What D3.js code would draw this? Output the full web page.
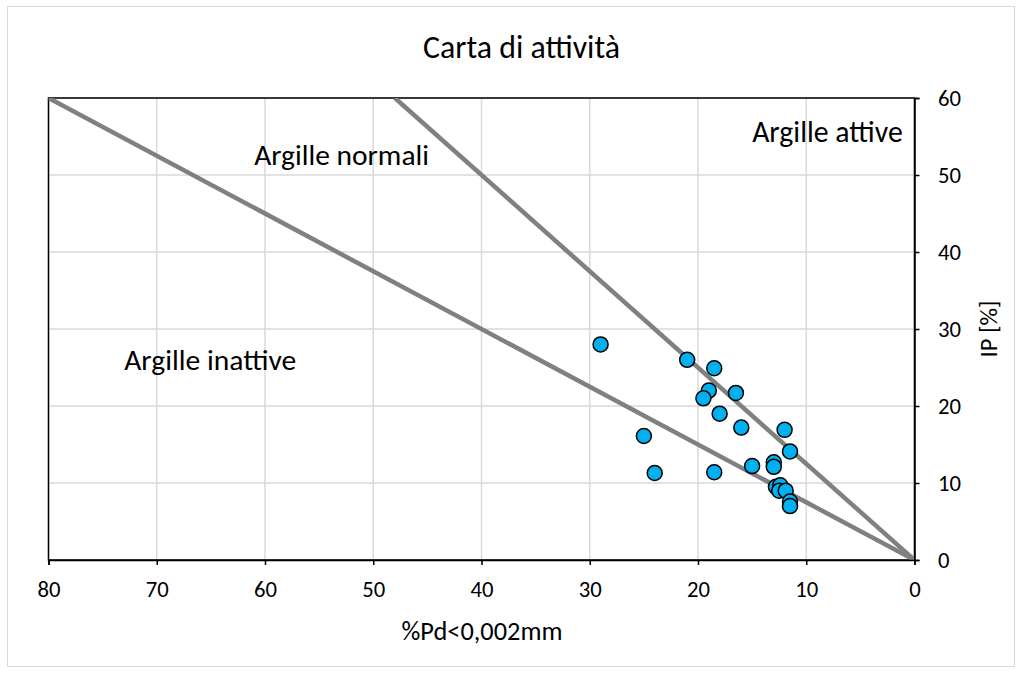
<!DOCTYPE html>
<html><head><meta charset="utf-8">
<script src="https://cdn.jsdelivr.net/npm/d3@7"></script>
<style>body{margin:0;background:#fff}svg{display:block;font-family:Carlito,Calibri,Lato,"Open Sans",sans-serif}</style>
</head><body><svg id="c" width="1024" height="673"></svg>
<script>
const pd = [29, 21, 18.5, 19, 19.5, 16.5, 18, 16, 12, 11.5, 25, 24, 18.5, 15, 13, 13, 12.8, 12.4, 12.5, 11.9, 11.5, 11.5];
const ip = [28, 26, 24.9, 22, 21, 21.7, 19, 17.2, 16.9, 14.1, 16.1, 11.3, 11.4, 12.2, 12.7, 12.1, 9.5, 9.7, 9.0, 9.0, 7.6, 7.0];
const activityLines = [0.75, 1.25];
const xTicks = [80, 70, 60, 50, 40, 30, 20, 10, 0];
const yTicks = [0, 10, 20, 30, 40, 50, 60];
const zoneLabels = [
  {text: "Argille normali", x: 61, y: 52.6},
  {text: "Argille attive", x: 15, y: 55.6},
  {text: "Argille inattive", x: 73, y: 26}
];
const zoneLabelWidths = [175, 150.6, 172];

const FONT = 'Carlito,Calibri,Lato,"Open Sans",sans-serif';
function fitSize(sel, target) {
  const base = 20;
  sel.style("font-size", base + "px");
  const w = sel.node().getComputedTextLength();
  const s = base * target / w;
  sel.style("font-size", s + "px");
  return s;
}

const svg = d3.select("#c");
const L = 48.5, R = 914.5, T = 98, B = 560;
const x = d3.scaleLinear().domain([80, 0]).range([L, R]);
const y = d3.scaleLinear().domain([0, 60]).range([B, T]);

svg.append("rect").attr("x", 7.5).attr("y", 6.5).attr("width", 1007).attr("height", 660)
  .attr("fill", "#fff").attr("stroke", "#d9d9d9");

// grid
svg.append("g").selectAll("line").data(xTicks).join("line")
  .attr("x1", d => x(d)).attr("x2", d => x(d)).attr("y1", T).attr("y2", B)
  .attr("stroke", "#d9d9d9").attr("stroke-width", 1.5);
svg.append("g").selectAll("line").data(yTicks).join("line")
  .attr("y1", d => y(d)).attr("y2", d => y(d)).attr("x1", L).attr("x2", R)
  .attr("stroke", "#d9d9d9").attr("stroke-width", 1.5);

// box
svg.append("rect").attr("x", L).attr("y", T).attr("width", R - L).attr("height", B - T)
  .attr("fill", "none").attr("stroke", "#000").attr("stroke-width", 1.5);

svg.append("clipPath").attr("id", "clip").append("rect")
  .attr("x", L).attr("y", T).attr("width", R - L).attr("height", B - T);

// activity lines
const lg = svg.append("g").attr("clip-path", "url(#clip)");
activityLines.forEach(a => {
  const xe = Math.min(80, 60 / a);
  lg.append("line").attr("x1", x(0)).attr("y1", y(0)).attr("x2", x(xe)).attr("y2", y(a * xe))
    .attr("stroke", "#808080").attr("stroke-width", 4.5);
});

// axes
const xAxis = d3.axisBottom(x).tickValues(xTicks).tickSize(5).tickPadding(0);
const gx = svg.append("g").attr("transform", `translate(0,${B})`).call(xAxis);
const yAxis = d3.axisRight(y).tickValues(yTicks).tickSize(5).tickPadding(0);
const gy = svg.append("g").attr("transform", `translate(${R},0)`).call(yAxis);
[gx, gy].forEach(g => {
  g.attr("font-family", null).attr("font-size", null);
  g.select(".domain").attr("stroke", "#000").attr("stroke-width", 1.5);
  g.selectAll(".tick line").attr("stroke", "#000").attr("stroke-width", 1.5);
  g.selectAll(".tick text").attr("fill", "#000").style("font-family", FONT);
});
const tickSize = fitSize(gx.selectAll(".tick text").filter(d => d === 80), 23);
gx.selectAll(".tick text").style("font-size", tickSize + "px").attr("y", 29).attr("dy", "0.35em");
gy.selectAll(".tick text").style("font-size", tickSize + "px").attr("x", 23.5).attr("dy", "0.35em");

// points
svg.append("g").selectAll("circle").data(pd.map((d, i) => [d, ip[i]])).join("circle")
  .attr("cx", d => x(d[0])).attr("cy", d => y(d[1])).attr("r", 7.5)
  .attr("fill", "#00b0f0").attr("stroke", "#000").attr("stroke-width", 1.5);

// zone labels
svg.append("g").selectAll("text").data(zoneLabels).join("text")
  .attr("x", d => x(d.x)).attr("y", d => y(d.y)).attr("dy", "0.35em")
  .attr("fill", "#000").text(d => d.text)
  .each(function(d, i) { fitSize(d3.select(this), zoneLabelWidths[i]); });

// titles
fitSize(svg.append("text").attr("x", 521.5).attr("y", 47).attr("dy", "0.35em").attr("text-anchor", "middle")
  .text("Carta di attività"), 197);
fitSize(svg.append("text").attr("x", 482).attr("y", 631).attr("dy", "0.35em").attr("text-anchor", "middle")
  .text("%Pd<0,002mm"), 161);
fitSize(svg.append("text").attr("transform", "translate(988,329) rotate(-90)").attr("dy", "0.35em")
  .attr("text-anchor", "middle").text("IP [%]"), 57);
</script></body></html>
